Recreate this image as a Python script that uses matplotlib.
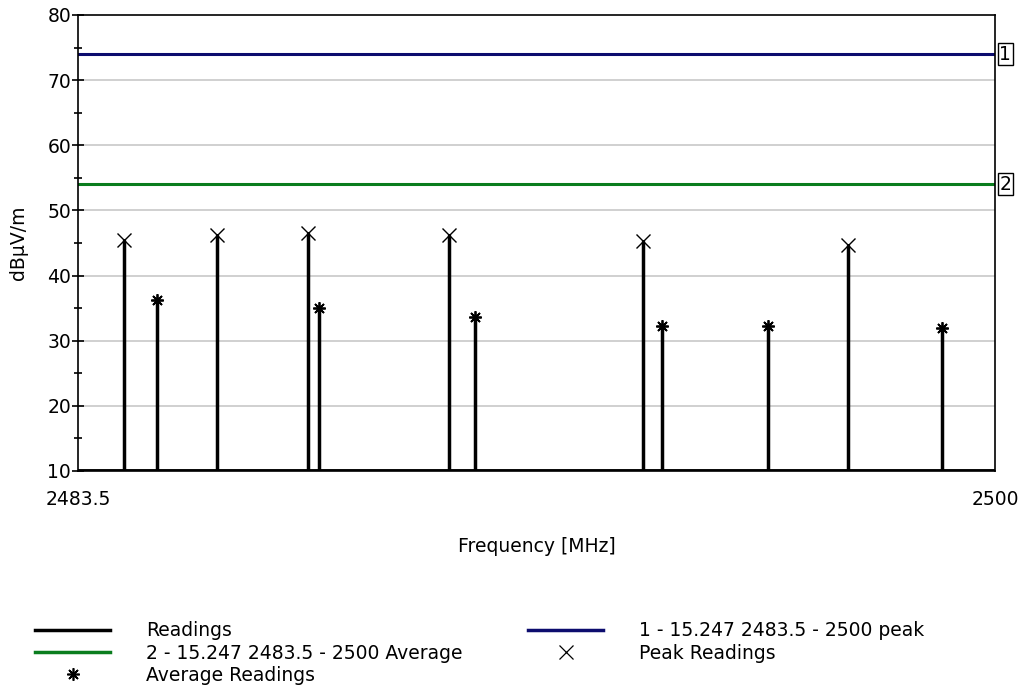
import matplotlib
matplotlib.use("Agg")
import matplotlib.pyplot as plt
from matplotlib.lines import Line2D
from matplotlib.ticker import MultipleLocator, FixedLocator

plt.rcParams['font.family'] = ['DejaVu Sans']
FS = 13.5

# Data
peak_freq = [2484.32, 2486.0, 2487.63, 2490.18, 2493.67, 2497.36]
peak_level = [45.4, 46.2, 46.6, 46.2, 45.3, 44.7]
avg_freq = [2484.93, 2487.84, 2490.64, 2494.0, 2495.91, 2499.04]
avg_level = [36.3, 35.0, 33.7, 32.2, 32.2, 31.9]
limit_peak = 74.0
limit_avg = 54.0
x_min, x_max = 2483.5, 2500.0
y_min, y_max = 10, 80

fig = plt.figure(figsize=(10.22, 6.98), dpi=100)
ax = fig.add_axes([78/1022, 1-471/698, (995-78)/1022, (471-15)/698])

ax.set_xlim(x_min, x_max)
ax.set_ylim(y_min, y_max)

# grid
for gy in range(20, 80, 10):
    ax.axhline(gy, color='#c8c8c8', lw=1.2, zorder=0)

# limit lines
ax.axhline(limit_peak, color='#0c0c6e', lw=2.2, zorder=2)
ax.axhline(limit_avg, color='#0a7d1e', lw=2.2, zorder=2)

# readings (stems + baseline)
all_f = peak_freq + avg_freq
all_v = peak_level + avg_level
ax.vlines(all_f, y_min, all_v, color='black', lw=2.5, zorder=3)
ax.axhline(y_min, color='black', lw=2.8, zorder=3)

ax.plot(peak_freq, peak_level, linestyle='none', marker='x', ms=10, mew=1.0,
        color='black', zorder=4)
ax.plot(avg_freq, avg_level, linestyle='none', marker=(8, 2, 0), ms=9, mew=1.3,
        color='black', zorder=4)

# right-side limit labels
for val, lab in [(limit_peak, '1'), (limit_avg, '2')]:
    ax.annotate(lab, xy=(1.0, val), xycoords=('axes fraction', 'data'),
                xytext=(3, 0), textcoords='offset points', va='center', ha='left',
                fontsize=FS,
                bbox=dict(boxstyle='square,pad=0.08', fc='white', ec='black', lw=1))

# ticks
ax.xaxis.set_major_locator(FixedLocator([x_min, x_max]))
ax.set_xticklabels(['2483.5', '2500'])
ax.tick_params(axis='x', length=0, pad=14, labelsize=FS)
ax.yaxis.set_major_locator(MultipleLocator(10))
ax.yaxis.set_minor_locator(MultipleLocator(5))
ax.tick_params(axis='y', which='major', direction='inout', length=8, width=1.2, labelsize=FS, pad=1)
ax.tick_params(axis='y', which='minor', direction='inout', length=6, width=1.2)

for s in ax.spines.values():
    s.set_linewidth(1.2)

ax.set_xlabel('Frequency [MHz]', fontsize=FS, labelpad=20)
ax.set_ylabel('dBµV/m', fontsize=FS, labelpad=14)

handles = [
    Line2D([], [], color='black', lw=2.5),
    Line2D([], [], color='#0a7d1e', lw=2.5),
    Line2D([], [], color='black', linestyle='none', marker=(8, 2, 0), ms=9, mew=1.2),
    Line2D([], [], color='#0c0c6e', lw=2.5),
    Line2D([], [], color='black', linestyle='none', marker='x', ms=10, mew=0.9),
]
labels = ['Readings', '2 - 15.247 2483.5 - 2500 Average', 'Average Readings',
          '1 - 15.247 2483.5 - 2500 peak', 'Peak Readings']
fig.legend(handles, labels, ncol=2, loc='upper left', bbox_to_anchor=(26/1022, 1-612/698),
           frameon=False, fontsize=FS, handlelength=4.0, handletextpad=1.9,
           columnspacing=3.5, labelspacing=0.17, borderpad=0)

fig.savefig('out.png', dpi=100)
